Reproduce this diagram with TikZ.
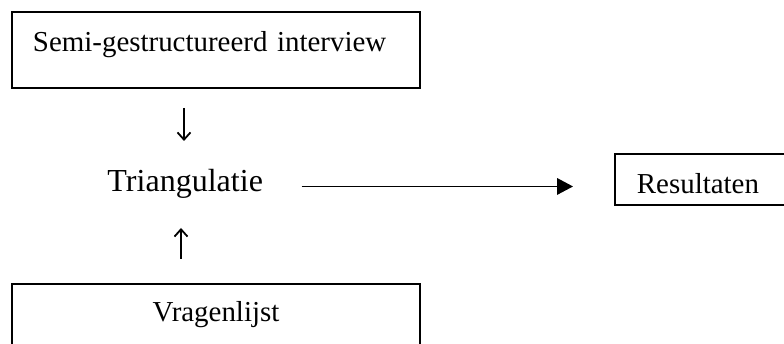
\documentclass[tikz,border=0pt]{standalone}
\usepackage{fontspec}
\setmainfont{Liberation Serif}
\usetikzlibrary{arrows.meta}

\begin{document}
\begin{tikzpicture}[x=0.415pt, y=-0.415pt,
    box/.style={draw, line width=0.85pt, anchor=north west, inner ysep=0pt,
      font=\fontsize{12}{14}\selectfont},
    flow/.style={line width=0.75pt, -{Triangle[length=6.6pt, width=6.8pt]}},
    glyph/.style={line width=0.75pt, -{Straight Barb[length=3pt, width=5.4pt]}}]
  \clip (0,0) rectangle (784,344);

  % Nodes
  \node[box, text width=151.9pt, inner xsep=8.7pt, align=left,
    text height=16.2pt, text depth=15.3pt] (semi) at (11,11) {Semi-gestructureerd interview};
  \node[box, text width=151.9pt, inner xsep=8.7pt, align=center,
    text height=15.4pt, text depth=16.1pt] (vragen) at (11,283) {Vragenlijst};
  \node[box, text width=64.7pt, inner xsep=9.1pt, align=left,
    text height=16.2pt, text depth=5pt] (res) at (614,153) {Resultaten};
  \node[anchor=base west, inner sep=0pt, font=\fontsize{13.3}{16}\selectfont]
    (tri) at (107,192) {Triangulatie};

  % Small arrows
  \coordinate (downtop) at (184,108);
  \coordinate (downtip) at (184,141);
  \coordinate (uptail) at (181,259);
  \coordinate (uptip) at (181,228);
  \draw[glyph] (downtop) -- (downtip);
  \draw[glyph] (uptail) -- (uptip);

  % Arrow to results
  \draw[flow, shorten <=15.8pt, shorten >=17pt] (tri.mid east) -- (tri.mid east -| res.west);
\end{tikzpicture}
\end{document}
